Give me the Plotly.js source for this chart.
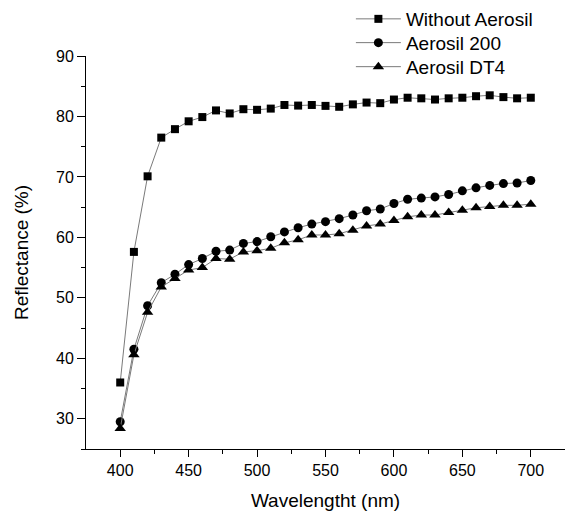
<!DOCTYPE html>
<html>
<head>
<meta charset="utf-8">
<script src="https://cdn.plot.ly/plotly-3.0.1.min.js"></script>
<style>html,body{margin:0;padding:0;background:#fff;}#chart{width:565px;height:513px;}</style>
</head>
<body>
<div id="chart"></div>
<script>
const wavelength = [400,410,420,430,440,450,460,470,480,490,500,510,520,530,540,550,560,570,580,590,600,610,620,630,640,650,660,670,680,690,700];
const withoutAerosil = [36.0,57.6,70.1,76.5,77.9,79.2,79.9,81.0,80.5,81.2,81.1,81.3,81.9,81.8,81.9,81.75,81.6,82.0,82.3,82.2,82.8,83.1,83.0,82.8,83.0,83.1,83.35,83.5,83.2,83.0,83.1];
const aerosil200 = [29.5,41.5,48.7,52.5,53.9,55.5,56.5,57.7,57.9,59.0,59.3,60.1,60.9,61.6,62.2,62.6,63.1,63.7,64.4,64.7,65.6,66.3,66.5,66.7,67.1,67.7,68.2,68.6,68.9,69.0,69.4];
const aerosilDT4 = [28.4,40.6,47.6,51.8,53.2,54.6,55.0,56.5,56.4,57.6,57.8,58.2,59.1,59.6,60.4,60.4,60.6,61.2,61.9,62.2,62.8,63.4,63.7,63.7,64.1,64.5,64.9,65.1,65.3,65.3,65.5];
const seriesNames = ["Without Aerosil","Aerosil 200","Aerosil DT4"];
const xTitle = "Wavelengtht (nm)";
const yTitle = "Reflectance (%)";

const lineStyle = {color:'#7a7a7a', width:1};
const traces = [
  {x: wavelength, y: withoutAerosil, name: seriesNames[0], legend:'legend', mode:'lines+markers', line: lineStyle, marker:{symbol:'square', size:8, color:'#000'}},
  {x: wavelength, y: aerosil200, name: seriesNames[1], legend:'legend2', mode:'lines+markers', line: lineStyle, marker:{symbol:'circle', size:9, color:'#000'}},
  {x: wavelength, y: aerosilDT4, name: seriesNames[2], legend:'legend3', mode:'lines+markers', line: lineStyle, marker:{symbol:'triangle-up', size:10, color:'#000'}}
];
const font = 'Arial, "Liberation Sans", sans-serif';
function leg(y){
  return {x:0.553, y:y, xanchor:'left', yanchor:'middle', itemwidth:45, font:{size:19, family:font, color:'#000'}, bgcolor:'rgba(0,0,0,0)'};
}
const layout = {
  width:565, height:513,
  margin:{l:86, r:0, t:55, b:64},
  paper_bgcolor:'#fff', plot_bgcolor:'#fff',
  font:{family:font, color:'#000'},
  showlegend:true,
  legend: leg(1.094),
  legend2: leg(1.031),
  legend3: leg(0.970),
  xaxis:{
    range:[375,725], tickvals:[400,450,500,550,600,650,700], showgrid:false, zeroline:false,
    showline:true, linecolor:'#000', linewidth:1, ticks:'outside', ticklen:7, tickcolor:'#000', tickwidth:1,
    minor:{tickvals:[425,475,525,575,625,675,725], ticks:'outside', ticklen:4, tickcolor:'#000', tickwidth:1, showgrid:false},
    tickfont:{size:16}, title:{text:xTitle, font:{size:19}, standoff:15}
  },
  yaxis:{
    range:[25,90], tickvals:[30,40,50,60,70,80,90], showgrid:false, zeroline:false,
    showline:true, linecolor:'#000', linewidth:1, ticks:'outside', ticklen:8, tickcolor:'#000', tickwidth:1,
    minor:{tickvals:[25,35,45,55,65,75,85], ticks:'outside', ticklen:4, tickcolor:'#000', tickwidth:1, showgrid:false},
    tickfont:{size:16}, title:{text:yTitle, font:{size:19}, standoff:22}
  }
};
Plotly.newPlot('chart', traces, layout, {staticPlot:true});
</script>
</body>
</html>
